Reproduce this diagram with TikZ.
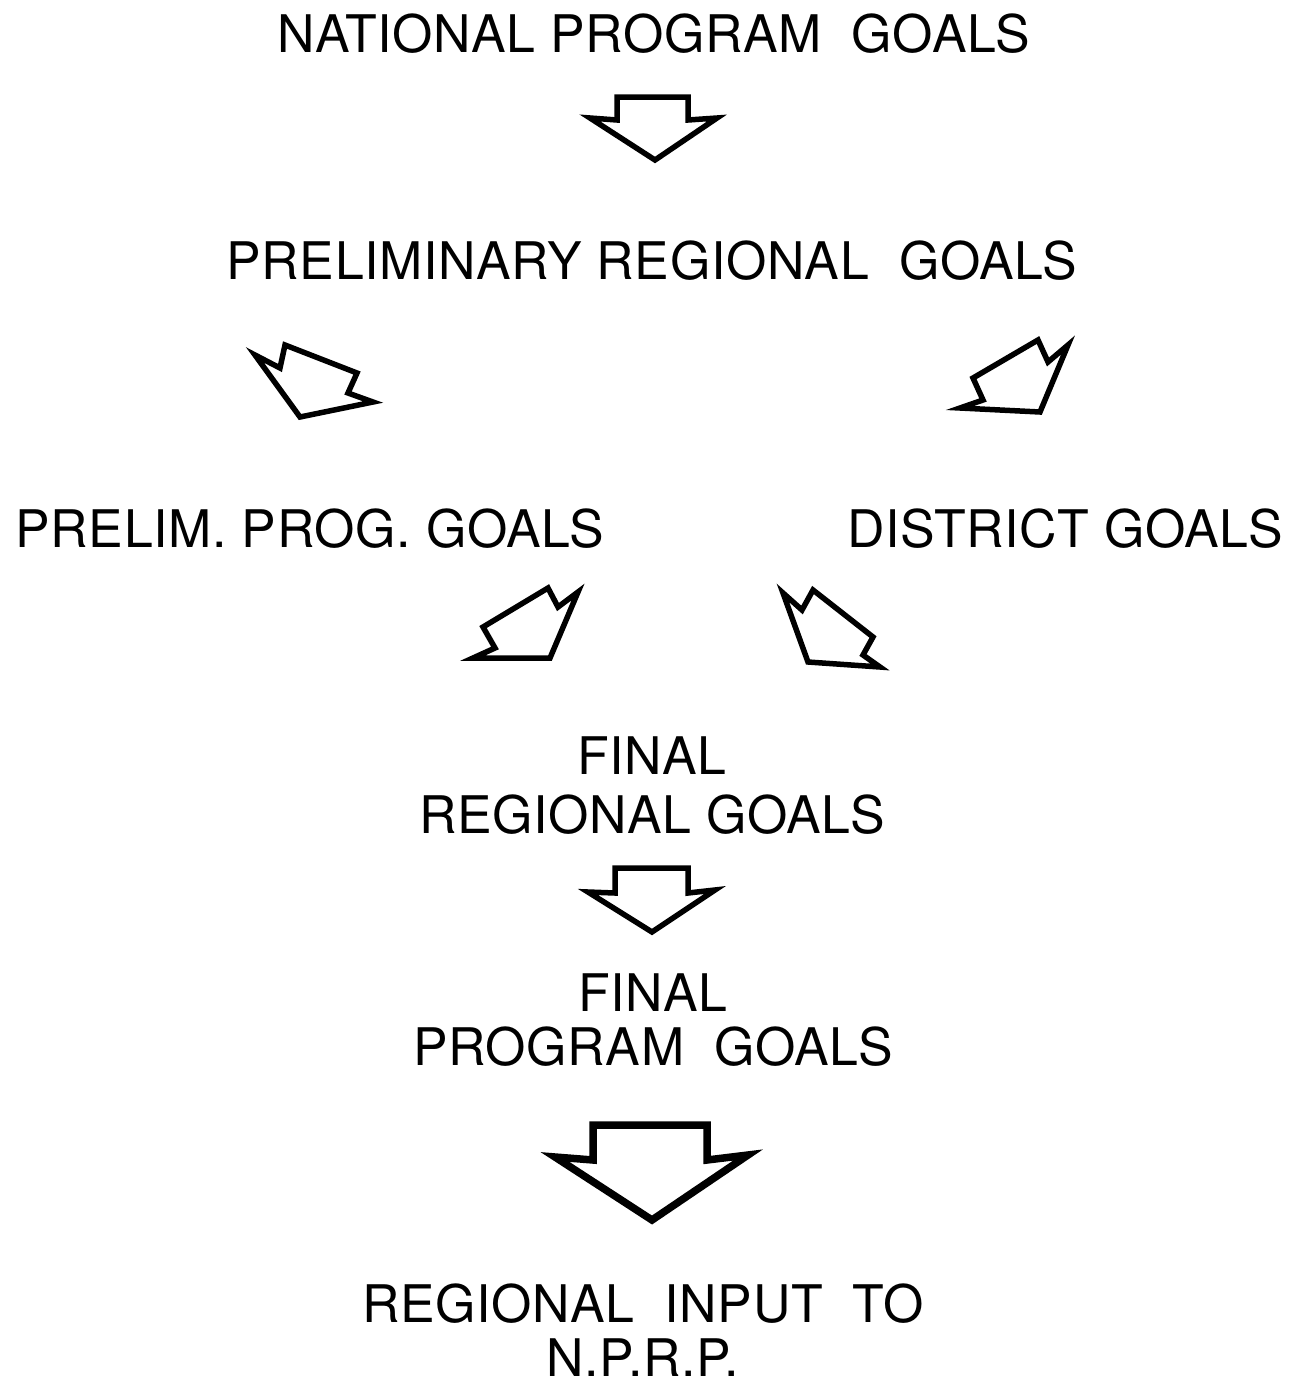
\documentclass[tikz,border=0pt]{standalone}
\usepackage{fontspec}
\setmainfont{TeX Gyre Heros}[LetterSpace=1.3]
\tikzset{
  goal/.style={anchor=north, inner sep=0pt, align=center, font=\fontsize{29.5}{34}\selectfont},
  blockarrow/.style={draw, line width=0.11cm, line join=miter, fill=white},
}
\begin{document}
\begin{tikzpicture}[x=0.02cm, y=-0.02cm]
  % 全体の範囲
  \useasboundingbox (0,0) rectangle (1300,1387);
  % 目標の名前
  \node[goal] (national) at (654,13) {NATIONAL PROGRAM\ \ GOALS};
  \node[goal] (prelimreg) at (652,240) {PRELIMINARY\ REGIONAL\ \ GOALS};
  \node[goal] (prelimprog) at (310,508) {PRELIM. PROG. GOALS};
  \node[goal] (district) at (1065,508) {DISTRICT\ GOALS};
  \node[goal] (finalreg) at (652,736) {FINAL\\REGIONAL GOALS};
  \node[goal] (finalprog) at (653,973) {FINAL\\[-3pt]PROGRAM\ \ GOALS};
  \node[goal] (input) at (643,1283) {REGIONAL\ \ INPUT\ \ TO\\[-3pt]N.P.R.P.};
  % 上の矢印
  \draw[blockarrow] (617,97) -- (688,97) -- (688,120) -- (717,118) -- (655,160) -- (590,118) -- (617,120) -- cycle;
  % 左へ向かう矢印
  \draw[blockarrow] (255,355) -- (280,368) -- (285,345) -- (357,373) -- (348,393) -- (373,402) -- (300,417) -- cycle;
  % 右へ向かう矢印
  \draw[blockarrow] (1068,345) -- (1048,362) -- (1038,340) -- (973,378) -- (983,400) -- (960,408) -- (1040,412) -- cycle;
  % 左から中央への矢印
  \draw[blockarrow] (578,592) -- (558,607) -- (548,588) -- (483,627) -- (495,648) -- (473,658) -- (550,658) -- cycle;
  % 右から中央への矢印
  \draw[blockarrow] (783,593) -- (802,610) -- (813,590) -- (873,637) -- (863,655) -- (880,667) -- (808,662) -- cycle;
  % 中央の矢印
  \draw[blockarrow] (615,868) -- (688,868) -- (688,893) -- (715,890) -- (652,932) -- (588,892) -- (615,893) -- cycle;
  % 下の大きい矢印
  \draw[blockarrow, line width=0.15cm] (593,1125) -- (707,1125) -- (707,1160) -- (748,1155) -- (652,1220) -- (555,1157) -- (593,1160) -- cycle;
\end{tikzpicture}
\end{document}
